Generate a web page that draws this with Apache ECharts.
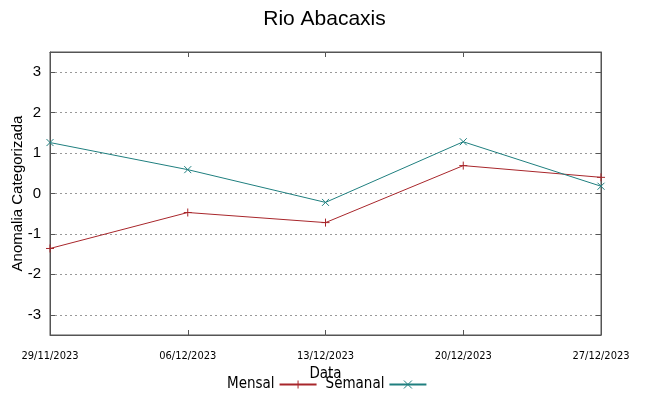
<!DOCTYPE html>
<html><head><meta charset="utf-8">
<script src="https://cdn.jsdelivr.net/npm/echarts@6/dist/echarts.min.js"></script>
<style>html,body{margin:0;padding:0;background:#fff}#c{width:649px;height:396px}</style>
</head><body><div id="c"></div>
<script>
const categories = ['29/11/2023','06/12/2023','13/12/2023','20/12/2023','27/12/2023'];
const mensal = [-1.36, -0.47, -0.72, 0.69, 0.40];
const semanal = [1.26, 0.59, -0.22, 1.28, 0.18];
const yTicks = [-3,-2,-1,0,1,2,3];

const narrow = '"Liberation Sans Narrow", "DejaVu Sans Condensed", "Roboto Condensed", sans-serif';
const plus = 'path://M0,5L10,5M5,0L5,10';
const cross = 'path://M0,0L10,10M0,10L10,0';
const redC = '#a8262b', tealC = '#1f7f7f';
const chart = echarts.init(document.getElementById('c'), null, {renderer:'canvas'});
const yBase = {
  type:'value', min:-3.5, max:3.5,
  axisLine:{show:true, lineStyle:{color:'#555'}},
  axisTick:{show:true, inside:true, length:5, customValues:yTicks, lineStyle:{color:'#555'}}
};
chart.setOption({
  animation:false,
  title:{text:'Rio Abacaxis', left:'center', top:4, textStyle:{fontFamily:'Liberation Sans', fontSize:21, fontWeight:'normal', color:'#000'}},
  grid:{left:50, right:48, top:52, bottom:61, show:true, borderColor:'#555', borderWidth:1, outerBoundsMode:'none', containLabel:false},
  legend:{
    data:['Mensal','Semanal'], top:372, left:222, align:'right', itemGap:8, itemWidth:37, itemHeight:10,
    itemStyle:{borderWidth:1},
    textStyle:{fontFamily:narrow, fontSize:15, color:'#000'}
  },
  xAxis:[{
    type:'category', data:categories, boundaryGap:false,
    name:'Data', nameLocation:'middle', nameGap:27,
    nameTextStyle:{fontFamily:narrow, fontSize:15, color:'#000'},
    axisLine:{onZero:false, lineStyle:{color:'#555'}},
    axisTick:{inside:true, length:5, lineStyle:{color:'#555'}},
    axisLabel:{fontFamily:narrow, fontSize:11, color:'#000', margin:16, interval:0},
    splitLine:{show:false}
  },{
    type:'category', data:categories, boundaryGap:false, position:'top',
    axisLine:{onZero:false, lineStyle:{color:'#555'}},
    axisTick:{inside:true, length:5, lineStyle:{color:'#555'}},
    axisLabel:{show:false}, splitLine:{show:false}
  }],
  yAxis:[Object.assign({}, yBase, {
    name:'Anomalia Categorizada', nameLocation:'middle', nameGap:25, nameMoveOverlap:false,
    nameTextStyle:{fontFamily:'Liberation Sans', fontSize:15, color:'#000'},
    axisLabel:{fontFamily:'Liberation Sans', fontSize:15, color:'#000', margin:9, customValues:yTicks},
    splitLine:{show:true, customValues:yTicks, lineStyle:{type:[2,3], color:'#999'}}
  }), Object.assign({}, yBase, {
    position:'right', axisLabel:{show:false}, splitLine:{show:false}
  })],
  series:[
    {name:'Mensal', type:'line', data:mensal, symbol:plus, symbolSize:8,
      lineStyle:{color:redC, width:1}, itemStyle:{color:redC, borderColor:redC, borderWidth:1}},
    {name:'Semanal', type:'line', data:semanal, symbol:cross, symbolSize:7,
      lineStyle:{color:tealC, width:1}, itemStyle:{color:tealC, borderColor:tealC, borderWidth:1}}
  ]
});
</script></body></html>
